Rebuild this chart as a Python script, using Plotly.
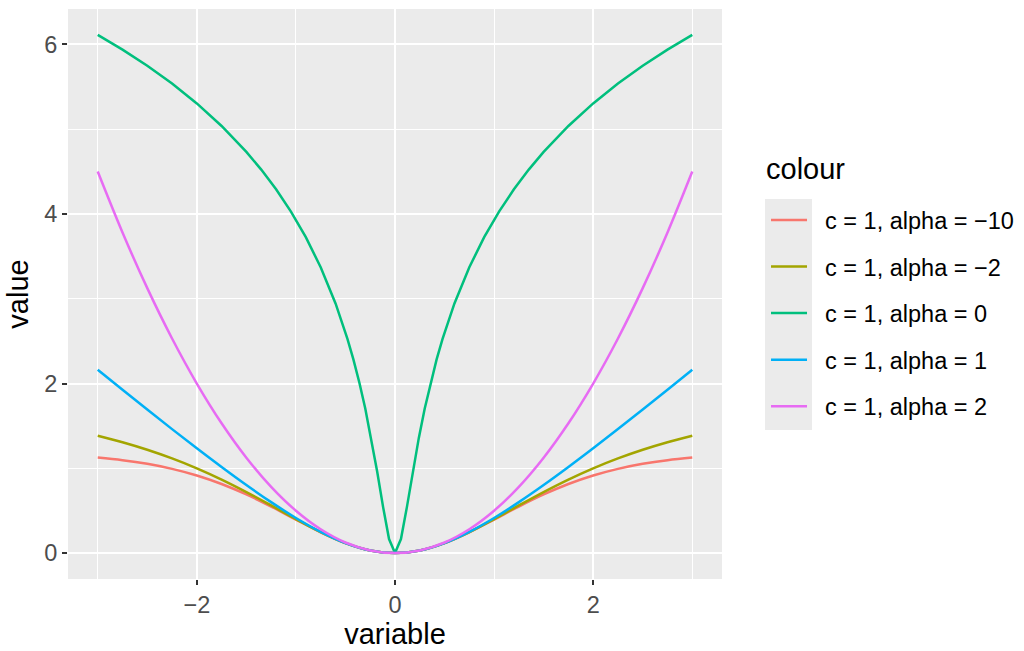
import plotly.graph_objects as go

# Shared x grid for the smooth curves
x_smooth = [-3.0, -2.75, -2.5, -2.25, -2.0, -1.75, -1.5, -1.25, -1.0, -0.75, -0.5, -0.25,
            0.0, 0.25, 0.5, 0.75, 1.0, 1.25, 1.5, 1.75, 2.0, 2.25, 2.5, 2.75, 3.0]

loss_a_m10 = [1.1269, 1.0958, 1.0525, 0.9935, 0.9152, 0.8149, 0.6918, 0.5493, 0.3958, 0.2457, 0.1176, 0.0308,
              0.0, 0.0308, 0.1176, 0.2457, 0.3958, 0.5493, 0.6918, 0.8149, 0.9152, 0.9935, 1.0525, 1.0958, 1.1269]
loss_a_m2 = [1.3846, 1.3081, 1.2195, 1.1172, 1.0, 0.8673, 0.72, 0.5618, 0.4, 0.2466, 0.1176, 0.0308,
             0.0, 0.0308, 0.1176, 0.2466, 0.4, 0.5618, 0.72, 0.8673, 1.0, 1.1172, 1.2195, 1.3081, 1.3846]
loss_a_1 = [2.1623, 1.9262, 1.6926, 1.4622, 1.2361, 1.0156, 0.8028, 0.6008, 0.4142, 0.25, 0.118, 0.0308,
            0.0, 0.0308, 0.118, 0.25, 0.4142, 0.6008, 0.8028, 1.0156, 1.2361, 1.4622, 1.6926, 1.9262, 2.1623]
loss_a_2 = [4.5, 3.7813, 3.125, 2.5313, 2.0, 1.5313, 1.125, 0.7813, 0.5, 0.2813, 0.125, 0.0313,
            0.0, 0.0313, 0.125, 0.2813, 0.5, 0.7813, 1.125, 1.5313, 2.0, 2.5313, 3.125, 3.7813, 4.5]

# The alpha = 0 curve has a sharp cusp at zero, so it gets a finer grid there
x_cusp = [-3.0, -2.75, -2.5, -2.25, -2.0, -1.75, -1.5, -1.35, -1.2, -1.05, -0.9, -0.75,
          -0.6, -0.54, -0.48, -0.42, -0.36, -0.3, -0.24, -0.18, -0.12, -0.06,
          0.0, 0.06, 0.12, 0.18, 0.24, 0.3, 0.36, 0.42, 0.48, 0.54, 0.6,
          0.75, 0.9, 1.05, 1.2, 1.35, 1.5, 1.75, 2.0, 2.25, 2.5, 2.75, 3.0]
loss_a_0 = [6.1115, 5.9379, 5.7478, 5.5378, 5.3033, 5.0378, 4.7318, 4.5232, 4.2905, 4.0276, 3.7257, 3.3716,
            2.9444, 2.746, 2.5273, 2.2844, 2.0122, 1.7047, 1.3558, 0.9632, 0.5423, 0.1655,
            0.0, 0.1655, 0.5423, 0.9632, 1.3558, 1.7047, 2.0122, 2.2844, 2.5273, 2.746, 2.9444,
            3.3716, 3.7257, 4.0276, 4.2905, 4.5232, 4.7318, 5.0378, 5.3033, 5.5378, 5.7478, 5.9379, 6.1115]

series_labels = ["c = 1, alpha = \u221210", "c = 1, alpha = \u22122", "c = 1, alpha = 0",
                 "c = 1, alpha = 1", "c = 1, alpha = 2"]
series = [
    (x_smooth, loss_a_m10, "#F8766D", "spline"),
    (x_smooth, loss_a_m2, "#A3A500", "spline"),
    (x_cusp, loss_a_0, "#00BF7D", "linear"),
    (x_smooth, loss_a_1, "#00B0F6", "spline"),
    (x_smooth, loss_a_2, "#E76BF3", "spline"),
]

fig = go.Figure()
for i, (label, (xs, ys, color, shape)) in enumerate(zip(series_labels, series)):
    fig.add_trace(go.Scatter(
        x=xs, y=ys, mode="lines",
        # non-breaking spaces push the label away from the key line
        name="\u00a0\u00a0" + label, legendgroup=str(i),
        line=dict(color=color, width=2.5, shape=shape),
    ))

FONT = "Liberation Sans, Arial, sans-serif"
PANEL = "#EBEBEB"

fig.update_layout(
    width=1024, height=651,
    margin=dict(l=68, r=302, t=9, b=72, autoexpand=False),
    paper_bgcolor="white",
    plot_bgcolor=PANEL,
    font=dict(family=FONT, color="black"),
    showlegend=True,
    legend=dict(
        font=dict(size=23.5, color="black"),
        x=1.0673, xanchor="left", y=0.668, yanchor="top",
        bgcolor="rgba(0,0,0,0)",
        tracegroupgap=13,
        itemwidth=36,
    ),
    shapes=[dict(type="rect", xref="paper", yref="paper",
                 x0=1.0657, x1=1.1376, y0=0.2614, y1=0.6667,
                 fillcolor=PANEL, line=dict(width=0), layer="below")],
    annotations=[dict(text="colour", xref="paper", yref="paper",
                      x=1.0642, y=0.7193, xanchor="left", yanchor="middle",
                      showarrow=False, font=dict(size=29, color="black"))],
)

fig.update_xaxes(
    range=[-3.3, 3.3], tickvals=[-2, 0, 2], automargin=False,
    showgrid=True, gridcolor="white", gridwidth=2,
    minor=dict(tickvals=[-3, -1, 1, 3], showgrid=True, gridcolor="white", gridwidth=1, ticks=""),
    ticks="outside", ticklen=5, tickwidth=2, tickcolor="#333333",
    tickfont=dict(size=23.5, color="#4D4D4D"),
    zeroline=False, showline=False,
    title=dict(text="variable", font=dict(size=29, color="black"), standoff=5),
)
fig.update_yaxes(
    range=[-0.3056, 6.4171], tickvals=[0, 2, 4, 6], automargin=False,
    showgrid=True, gridcolor="white", gridwidth=2,
    minor=dict(tickvals=[1, 3, 5], showgrid=True, gridcolor="white", gridwidth=1, ticks=""),
    ticks="outside", ticklen=5, tickwidth=2, tickcolor="#333333",
    tickfont=dict(size=23.5, color="#4D4D4D"),
    zeroline=False, showline=False,
    title=dict(text="value", font=dict(size=29, color="black"), standoff=7),
)

fig.write_html("out.html")
